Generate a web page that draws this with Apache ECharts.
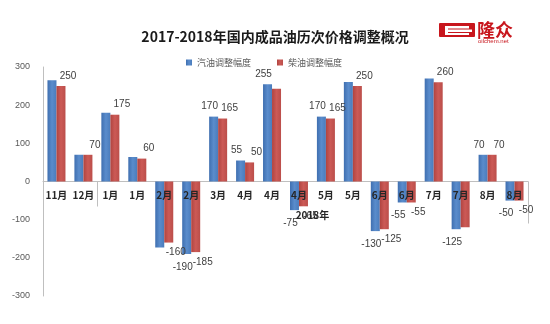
<!DOCTYPE html>
<html>
<head>
<meta charset="utf-8">
<script src="https://cdn.jsdelivr.net/npm/echarts@6/dist/echarts.min.js"></script>
<style>html,body{margin:0;padding:0;background:#fff}#c{width:550px;height:324px}</style>
</head>
<body>
<div id="c"></div>
<script>
const titleText = '2017-2018年国内成品油历次价格调整概况';
const seriesNames = ['汽油调整幅度', '柴油调整幅度'];
const categories = ['11月','12月','1月','1月','2月','2月','3月','4月','4月','4月','5月','5月','6月','6月','7月','7月','8月','8月'];
const gasoline = [265, 70, 180, 64, -173, -190, 170, 55, 255, -75, 170, 261, -130, -55, 270, -125, 70, -50];
const diesel   = [250, 70, 175, 60, -160, -185, 165, 50, 243, -65, 165, 250, -125, -55, 260, -120, 70, -50];
const gasLabelShown    = [0,0,0,0,0,1,1,1,1,1,1,0,1,1,0,1,1,1];
const dieselLabelShown = [1,1,1,1,1,1,1,1,0,1,1,1,1,1,1,0,1,1];
const yTicks = [-300, -200, -100, 0, 100, 200, 300];
const groupLabel = '2018年';
const groupStart = 2, groupEnd = 17;

const font = '"Liberation Sans", "Noto Sans CJK SC", sans-serif';
const cjk = '"Noto Sans CJK SC", sans-serif';

function mkData(vals, shown, isGas) {
  return vals.map((v, i) => ({
    value: v,
    label: {
      show: !!shown[i],
      position: v >= 0 ? 'top' : 'bottom',
      offset: isGas ? [-4, v >= 0 ? 0 : 3] : [7, 0]
    }
  }));
}

const chart = echarts.init(document.getElementById('c'), null, {renderer: 'canvas'});
const gridDef = {left: 43, right: 22, top: 67, bottom: 28, containLabel: false};
const option = {
  animation: false,
  backgroundColor: '#fff',
  title: {
    text: titleText, left: 'center', top: 25,
    textStyle: {fontSize: 14, fontWeight: 'bold', color: '#1a1a1a', fontFamily: cjk}
  },
  legend: {
    left: 181, top: 53, itemWidth: 6, itemHeight: 6, itemGap: 26,
    icon: 'rect',
    textStyle: {fontSize: 9, color: '#595959', fontFamily: cjk},
    data: seriesNames
  },
  grid: gridDef,
  xAxis: [
    {
      type: 'category', data: categories,
      axisLine: {onZero: true, lineStyle: {color: '#bfbfbf', width: 1}},
      axisTick: {show: false},
      axisLabel: {show: false}
    },
    {
      type: 'category', data: categories, position: 'bottom', offset: 0, z: 10,
      axisLine: {show: false, onZero: false},
      axisTick: {show: false},
      axisLabel: {interval: 0, margin: 9, fontSize: 10, fontWeight: 'bold', color: '#262626', fontFamily: cjk}
    }
  ],
  yAxis: {
    type: 'value', min: yTicks[0], max: yTicks[yTicks.length - 1], interval: 100,
    axisLine: {show: true, lineStyle: {color: '#bfbfbf'}},
    axisTick: {show: false},
    splitLine: {show: false},
    axisLabel: {margin: 13, fontSize: 9, color: '#595959', fontFamily: font}
  },
  series: [
    {
      name: seriesNames[0], type: 'bar', barWidth: 9, barGap: '0%',
      itemStyle: {color: new echarts.graphic.LinearGradient(0, 0, 1, 0, [{offset: 0, color: '#3f6fb0'}, {offset: 0.5, color: '#5a8ccc'}, {offset: 1, color: '#4a7cbc'}])},
      label: {fontSize: 10, color: '#404040', fontFamily: font},
      data: mkData(gasoline, gasLabelShown, true)
    },
    {
      name: seriesNames[1], type: 'bar', barWidth: 9, barGap: '0%',
      itemStyle: {color: new echarts.graphic.LinearGradient(0, 0, 1, 0, [{offset: 0, color: '#b04440'}, {offset: 0.5, color: '#cc5a56'}, {offset: 1, color: '#bb4e4a'}])},
      label: {fontSize: 10, color: '#404040', fontFamily: font},
      data: mkData(diesel, dieselLabelShown, false)
    }
  ]
};
chart.setOption(option);

// Decorations computed from axis scales
const zeroY = chart.convertToPixel({yAxisIndex: 0}, 0);
const bottomY = chart.convertToPixel({yAxisIndex: 0}, yTicks[0]);
const c0 = chart.convertToPixel({xAxisIndex: 0}, 0);
const c1 = chart.convertToPixel({xAxisIndex: 0}, 1);
const step = c1 - c0;
const sepX = chart.convertToPixel({xAxisIndex: 0}, groupStart) - step / 2;
const endX = chart.convertToPixel({xAxisIndex: 0}, categories.length - 1) + step / 2;
const gMid = (chart.convertToPixel({xAxisIndex: 0}, groupStart) + chart.convertToPixel({xAxisIndex: 0}, groupEnd)) / 2;

chart.setOption({
  xAxis: [{}, {offset: -(bottomY - zeroY)}],
  graphic: [
    {type: 'line', shape: {x1: Math.round(sepX) + 0.5, y1: zeroY, x2: Math.round(sepX) + 0.5, y2: zeroY + 25}, style: {stroke: '#bfbfbf', lineWidth: 1}, silent: true},
    {type: 'line', shape: {x1: Math.round(endX) + 0.5, y1: zeroY, x2: Math.round(endX) + 0.5, y2: zeroY + 42}, style: {stroke: '#bfbfbf', lineWidth: 1}, silent: true},
    {type: 'text', x: gMid, y: zeroY + 34, style: {text: groupLabel, fontSize: 10, fontWeight: 'bold', fill: '#262626', align: 'center', verticalAlign: 'middle', fontFamily: cjk}, z: 10},
    // logo
    {type: 'rect', shape: {x: 439, y: 23, width: 36, height: 14, r: 1}, style: {fill: '#c8161d'}},
    {type: 'rect', shape: {x: 445, y: 26, width: 24, height: 2.5}, style: {fill: '#fff'}},
    {type: 'rect', shape: {x: 445, y: 29.5, width: 27, height: 2.5}, style: {fill: '#fff'}},
    {type: 'rect', shape: {x: 445, y: 33, width: 24, height: 2}, style: {fill: '#fff'}},
    {type: 'rect', shape: {x: 445, y: 26, width: 3, height: 9}, style: {fill: '#fff'}},
    {type: 'text', x: 477, y: 30, style: {text: '隆众', fontSize: 18, fontWeight: 'bold', fill: '#c8161d', verticalAlign: 'middle', fontFamily: cjk}},
    {type: 'text', x: 478, y: 41, style: {text: 'oilchem.net', fontSize: 6, fill: '#c8161d', verticalAlign: 'middle', fontFamily: font}}
  ]
});
</script>
</body>
</html>
